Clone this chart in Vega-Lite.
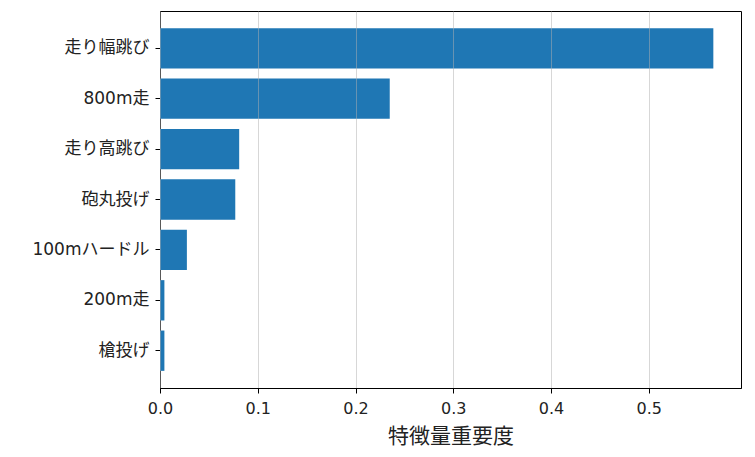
{
  "$schema": "https://vega.github.io/schema/vega-lite/v6.json",
  "autosize": "none",
  "width": 581,
  "height": 377,
  "padding": {"left": 160, "top": 11, "right": 14, "bottom": 69},
  "background": "white",
  "config": {
    "view": {"stroke": "black", "strokeWidth": 1},
    "font": "DejaVu Sans, Noto Sans CJK JP"
  },
  "data": {
    "values": [
      {"feature": "走り幅跳び", "importance": 0.566},
      {"feature": "800m走", "importance": 0.235},
      {"feature": "走り高跳び", "importance": 0.081},
      {"feature": "砲丸投げ", "importance": 0.077},
      {"feature": "100mハードル", "importance": 0.0275},
      {"feature": "200m走", "importance": 0.0045},
      {"feature": "槍投げ", "importance": 0.0045}
    ]
  },
  "mark": {"type": "bar", "color": "#1f77b4"},
  "encoding": {
    "y": {
      "field": "feature",
      "type": "nominal",
      "sort": null,
      "scale": {"paddingInner": 0.2, "paddingOuter": 0.34},
      "axis": {
        "title": null,
        "labelFont": "DejaVu Sans, Noto Sans CJK JP",
        "labelFontSize": 17,
        "labelColor": "#222",
        "labelPadding": 6,
        "tickSize": 5,
        "tickColor": "black",
        "domainColor": "black",
        "grid": false
      }
    },
    "x": {
      "field": "importance",
      "type": "quantitative",
      "scale": {"domain": [0, 0.5943], "nice": false, "zero": true},
      "axis": {
        "title": "特徴量重要度",
        "titleFont": "DejaVu Sans, Noto Sans CJK JP",
        "titleFontSize": 21,
        "titleFontWeight": "normal",
        "titleColor": "#222",
        "titlePadding": 9,
        "values": [0, 0.1, 0.2, 0.3, 0.4, 0.5],
        "format": ".1f",
        "labelFont": "DejaVu Sans, Noto Sans CJK JP",
        "labelFontSize": 16,
        "labelColor": "#222",
        "labelPadding": 7,
        "labelFlush": false,
        "tickSize": 5,
        "tickColor": "black",
        "domainColor": "black",
        "grid": true,
        "gridColor": "#b0b0b0",
        "gridOpacity": 0.5,
        "zindex": 1
      }
    }
  }
}
